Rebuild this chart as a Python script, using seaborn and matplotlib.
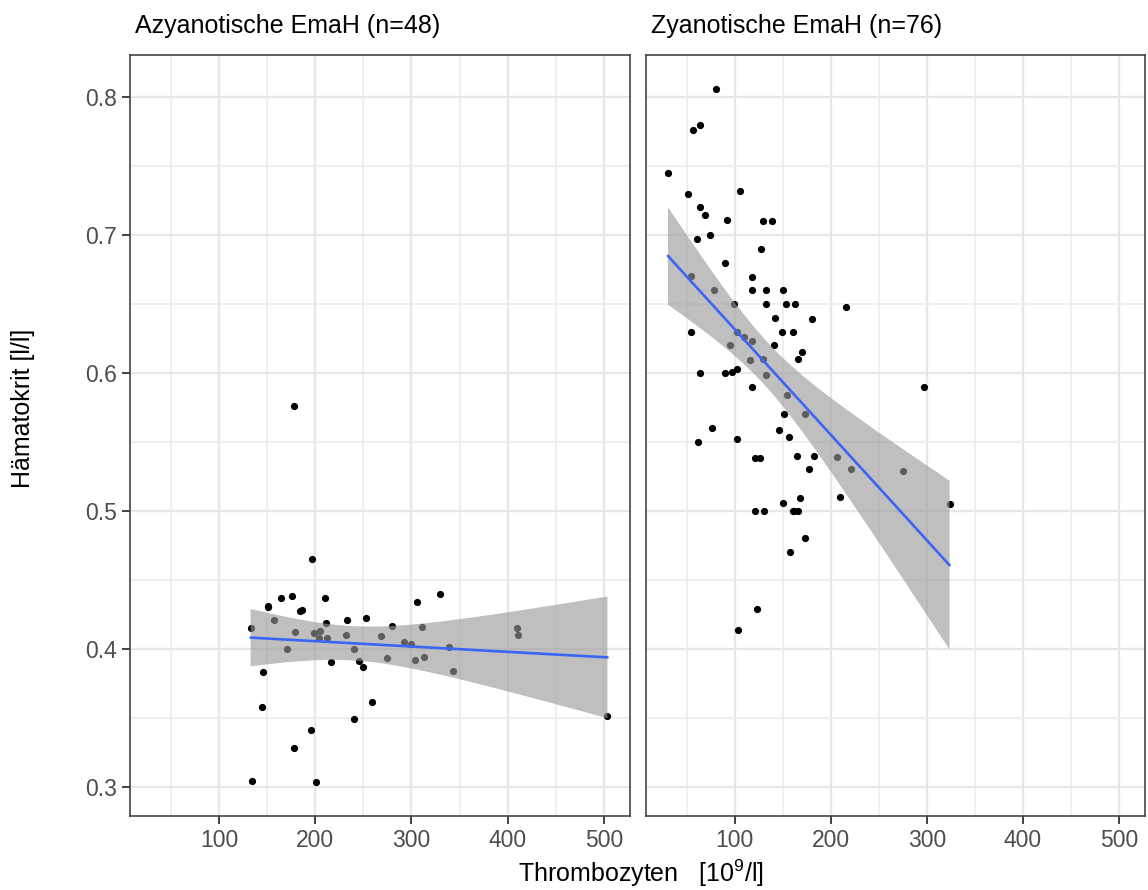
import numpy as np
import pandas as pd
import matplotlib
matplotlib.use("Agg")
import matplotlib.pyplot as plt
from matplotlib.ticker import MultipleLocator, FixedLocator
import seaborn as sns

# Panel headers
panel_titles = ["Azyanotische EmaH (n=48)", "Zyanotische EmaH (n=76)"]

# Acyanotic group: platelets [10^9/l] and haematocrit [l/l]
acyan_plt = [132.9, 150.9, 151.2, 164.1, 176.1, 184.1, 186.5, 210.1, 157.1, 178.9,
             170.9, 199.0, 205.2, 204.2, 211.4, 212.5, 233.2, 252.3, 231.6, 240.2,
             245.1, 249.2, 216.0, 146.0, 144.3, 177.9, 195.2, 134.3, 201.0, 240.2,
             259.2, 268.2, 279.3, 274.1, 292.1, 299.4, 303.2, 313.2, 310.5, 305.9,
             329.2, 339.2, 343.3, 409.5, 410.2, 503.6, 196.3, 177.9]
acyan_hkt = [0.4151, 0.4303, 0.4313, 0.4371, 0.4383, 0.4274, 0.4282, 0.4371, 0.4211, 0.4122,
             0.4001, 0.4113, 0.4132, 0.4081, 0.4185, 0.4081, 0.4211, 0.4221, 0.4102, 0.4001,
             0.3914, 0.3870, 0.3902, 0.3832, 0.3580, 0.3281, 0.3411, 0.3041, 0.3032, 0.3491,
             0.3612, 0.4091, 0.4164, 0.3932, 0.4052, 0.4036, 0.3922, 0.3941, 0.4161, 0.4342,
             0.4400, 0.4011, 0.3841, 0.4151, 0.4100, 0.3511, 0.4649, 0.5759]

# Cyanotic group
cyan_plt = [80.6, 56.4, 63.7, 30.4, 105.5, 51.5, 63.7, 68.8, 91.4, 129.4,
            138.7, 74.4, 60.5, 127.7, 90.3, 54.0, 118.4, 77.9, 118.4, 132.2,
            150.6, 99.7, 132.2, 153.3, 162.3, 215.6, 141.5, 180.3, 54.3, 102.8,
            149.5, 160.5, 110.1, 118.0, 95.5, 140.5, 169.6, 165.7, 115.6, 129.4,
            63.7, 90.3, 96.6, 101.8, 132.2, 117.7, 154.3, 296.6, 172.7, 151.2,
            76.4, 145.7, 156.8, 61.6, 102.4, 121.5, 126.0, 164.4, 182.3, 206.6,
            177.6, 220.5, 275.5, 167.5, 150.6, 209.3, 323.6, 121.5, 130.4, 160.9,
            165.7, 173.4, 157.4, 123.6, 103.4, 162.0]
cyan_hkt = [0.8060, 0.7761, 0.7801, 0.7449, 0.7320, 0.7301, 0.7202, 0.7149, 0.7110, 0.7101,
            0.7101, 0.7001, 0.6970, 0.6900, 0.6801, 0.6702, 0.6699, 0.6600, 0.6600, 0.6600,
            0.6600, 0.6501, 0.6501, 0.6501, 0.6501, 0.6479, 0.6402, 0.6390, 0.6300, 0.6300,
            0.6300, 0.6300, 0.6259, 0.6233, 0.6201, 0.6201, 0.6151, 0.6100, 0.6093, 0.6102,
            0.6000, 0.6000, 0.6010, 0.6029, 0.5984, 0.5901, 0.5841, 0.5901, 0.5701, 0.5701,
            0.5599, 0.5589, 0.5539, 0.5500, 0.5519, 0.5382, 0.5382, 0.5401, 0.5401, 0.5393,
            0.5302, 0.5302, 0.5292, 0.5092, 0.5060, 0.5101, 0.5050, 0.5002, 0.5002, 0.5002,
            0.5002, 0.4801, 0.4702, 0.4288, 0.4139, 0.5002]

x_ticks = [100, 200, 300, 400, 500]
y_ticks = [0.3, 0.4, 0.5, 0.6, 0.7, 0.8]
x_label = "Thrombozyten   [10$^{9}$/l]"
y_label = "Hämatokrit [l/l]"

# two-sided 95 % Student-t quantiles for n-2 degrees of freedom
t_quantile = {46: 2.0129, 74: 1.9925}


def lm_band(x, y, n_grid=80):
    """Least-squares line with its 95 % confidence band for the mean."""
    x = np.asarray(x, float)
    y = np.asarray(y, float)
    n = len(x)
    slope, intercept = np.polyfit(x, y, 1)
    resid = y - (intercept + slope * x)
    s = np.sqrt(np.sum(resid ** 2) / (n - 2))
    grid = np.linspace(x.min(), x.max(), n_grid)
    fit = intercept + slope * grid
    se = s * np.sqrt(1 / n + (grid - x.mean()) ** 2 / np.sum((x - x.mean()) ** 2))
    t = t_quantile[n - 2]
    return grid, fit, fit - t * se, fit + t * se


sns.set_theme(style="white")
plt.rcParams["font.family"] = ["Liberation Sans", "DejaVu Sans"]
plt.rcParams["mathtext.default"] = "regular"

W, H = 1148, 890
fig = plt.figure(figsize=(W / 100, H / 100), dpi=100)
fig.patch.set_facecolor("white")
ax_l = fig.add_axes([130 / W, 74 / H, 500 / W, 761 / H])
ax_r = fig.add_axes([646 / W, 74 / H, 499 / W, 761 / H], sharex=ax_l, sharey=ax_l)

groups = [(ax_l, acyan_plt, acyan_hkt), (ax_r, cyan_plt, cyan_hkt)]
for (ax, xs, ys), title in zip(groups, panel_titles):
    df = pd.DataFrame({"Thrombozyten": xs, "Haematokrit": ys})
    sns.scatterplot(data=df, x="Thrombozyten", y="Haematokrit", ax=ax,
                    s=27, color="black", linewidth=0, zorder=1)
    grid, fit, lo, hi = lm_band(xs, ys)
    ax.fill_between(grid, lo, hi, facecolor="#999999", alpha=0.62,
                    edgecolor="none", zorder=1.5)
    sns.lineplot(x=grid, y=fit, ax=ax, color="#3a66f5", lw=1.9, zorder=2)

    ax.set_xlabel("")
    ax.set_ylabel("")
    ax.set_facecolor("white")
    ax.set_axisbelow(True)
    ax.xaxis.set_major_locator(FixedLocator(x_ticks))
    ax.yaxis.set_major_locator(FixedLocator(y_ticks))
    ax.xaxis.set_minor_locator(MultipleLocator(50))
    ax.yaxis.set_minor_locator(MultipleLocator(0.05))
    ax.grid(which="major", color="#e8e8e8", lw=1.7)
    ax.grid(which="minor", color="#ebebeb", lw=1.1)
    ax.tick_params(which="minor", length=0)
    ax.tick_params(which="major", direction="out", length=5.5, width=1.3,
                   color="#333333", labelsize=16.5, labelcolor="#4d4d4d", pad=4)
    for sp in ax.spines.values():
        sp.set_visible(True)
        sp.set_color("#444444")
        sp.set_linewidth(1.2)
    ax.text(5 / 500, 1 + 22 / 761, title, transform=ax.transAxes,
            ha="left", va="baseline", fontsize=18, color="black")

ax_l.set_xlim(7.6, 527)
ax_l.set_ylim(0.2787, 0.8307)
ax_l.tick_params(axis="both", bottom=True, left=True)
ax_r.tick_params(axis="y", left=False, labelleft=False)
ax_r.tick_params(axis="x", bottom=True)

fig.text(641 / W, (H - 882) / H, x_label, ha="center", va="baseline",
         fontsize=18, color="black")
fig.text(23 / W, 1 - 408 / H, y_label, rotation=90, ha="center", va="center",
         fontsize=18, color="black")

fig.savefig("out.png", dpi=100, facecolor="white")
